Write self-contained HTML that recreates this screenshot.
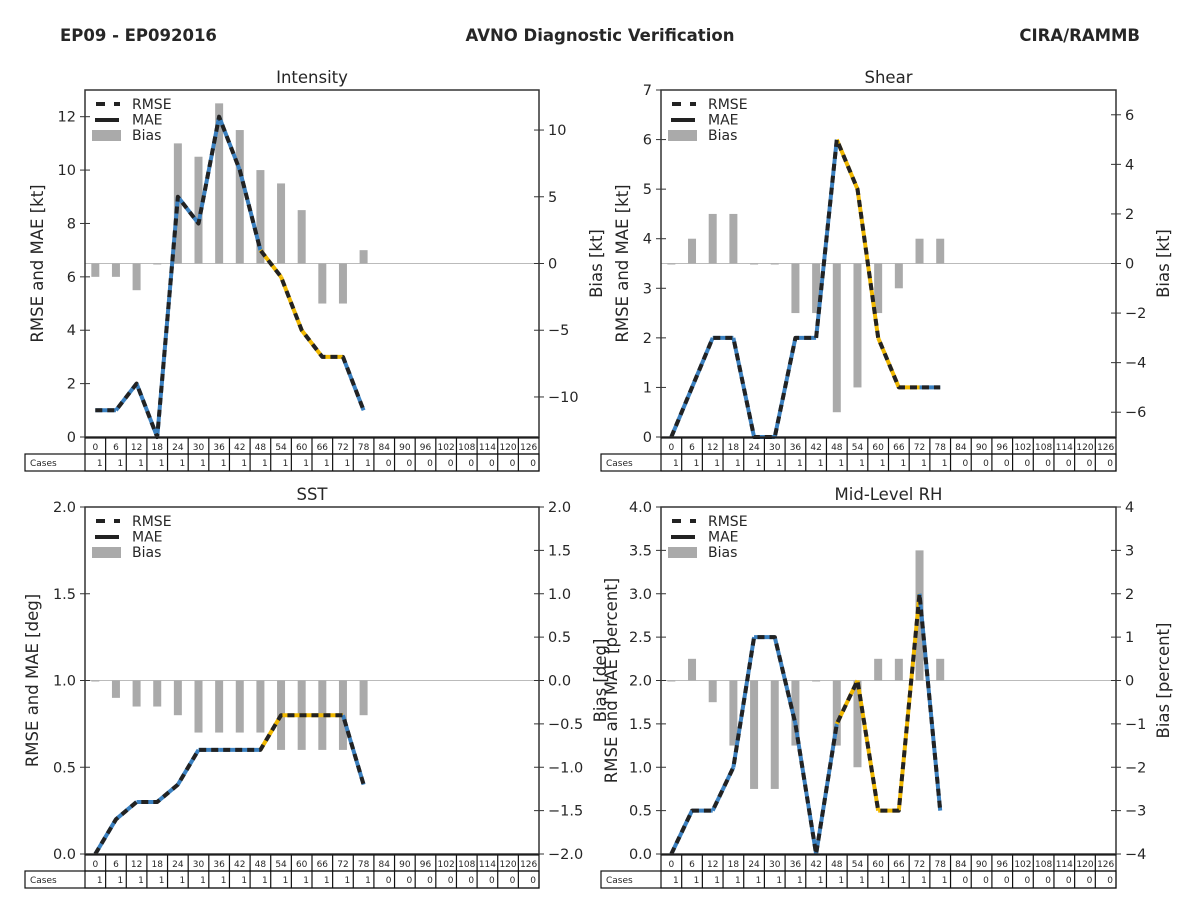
<!DOCTYPE html>
<html><head><meta charset="utf-8">
<style>
html,body{margin:0;padding:0;background:#fff;}
svg{display:block;font-family:"DejaVu Sans","Liberation Sans",sans-serif;}
</style></head>
<body>
<svg id="fig" width="1200" height="900" viewBox="0 0 1200 900" xmlns="http://www.w3.org/2000/svg">
<text x="60" y="41" font-size="16.5" font-weight="bold" fill="#262626">EP09 - EP092016</text>
<text x="600" y="41" font-size="16.5" font-weight="bold" fill="#262626" text-anchor="middle">AVNO Diagnostic Verification</text>
<text x="1140" y="41" font-size="16.5" font-weight="bold" fill="#262626" text-anchor="end">CIRA/RAMMB</text>
</svg>
<script>
const leadTimes = [0,6,12,18,24,30,36,42,48,54,60,66,72,78,84,90,96,102,108,114,120,126];
const cases = [1,1,1,1,1,1,1,1,1,1,1,1,1,1,0,0,0,0,0,0,0,0];

const intensityRmse = [1,1,2,0,9,8,12,10,7,6,4,3,3,1];
const intensityMae = [1,1,2,0,9,8,12,10,7,6,4,3,3,1];
const intensityBias = [-1,-1,-2,0,9,8,12,10,7,6,4,-3,-3,1];
const shearRmse = [0,1,2,2,0,0,2,2,6,5,2,1,1,1];
const shearMae = [0,1,2,2,0,0,2,2,6,5,2,1,1,1];
const shearBias = [0,1,2,2,0,0,-2,-2,-6,-5,-2,-1,1,1];
const sstRmse = [0,0.2,0.3,0.3,0.4,0.6,0.6,0.6,0.6,0.8,0.8,0.8,0.8,0.4];
const sstMae = [0,0.2,0.3,0.3,0.4,0.6,0.6,0.6,0.6,0.8,0.8,0.8,0.8,0.4];
const sstBias = [0,-0.2,-0.3,-0.3,-0.4,-0.6,-0.6,-0.6,-0.6,-0.8,-0.8,-0.8,-0.8,-0.4];
const rhRmse = [0,0.5,0.5,1,2.5,2.5,1.5,0,1.5,2,0.5,0.5,3,0.5];
const rhMae = [0,0.5,0.5,1,2.5,2.5,1.5,0,1.5,2,0.5,0.5,3,0.5];
const rhBias = [0,0.5,-0.5,-1.5,-2.5,-2.5,-1.5,0,-1.5,-2,0.5,0.5,3,0.5];

const intensityLeftTicks = ['0','2','4','6','8','10','12'];
const intensityRightTicks = ['\u221210','\u22125','0','5','10'];
const shearLeftTicks = ['0','1','2','3','4','5','6','7'];
const shearRightTicks = ['\u22126','\u22124','\u22122','0','2','4','6'];
const sstLeftTicks = ['0.0','0.5','1.0','1.5','2.0'];
const sstRightTicks = ['\u22122.0','\u22121.5','\u22121.0','\u22120.5','0.0','0.5','1.0','1.5','2.0'];
const rhLeftTicks = ['0.0','0.5','1.0','1.5','2.0','2.5','3.0','3.5','4.0'];
const rhRightTicks = ['\u22124','\u22123','\u22122','\u22121','0','1','2','3','4'];

const svg = document.getElementById('fig');
const NS = 'http://www.w3.org/2000/svg';
function mk(tag, attrs, parent){const e=document.createElementNS(NS,tag);for(const k in attrs)e.setAttribute(k,attrs[k]);(parent||svg).appendChild(e);return e;}
function num(s){return parseFloat(String(s).replace('\u2212','-'));}

const panels = [
 {key:'intensity',title:'Intensity',x0:85,x1:539,y0:90,y1:437,lmax:13,rmax:13,lt:intensityLeftTicks,rt:intensityRightTicks,rmse:intensityRmse,mae:intensityMae,bias:intensityBias,ll:'RMSE and MAE [kt]',rl:'Bias [kt]',llx:43,rlx:602},
 {key:'shear',title:'Shear',x0:661,x1:1116,y0:90,y1:437,lmax:7,rmax:7,lt:shearLeftTicks,rt:shearRightTicks,rmse:shearRmse,mae:shearMae,bias:shearBias,ll:'RMSE and MAE [kt]',rl:'Bias [kt]',llx:628,rlx:1169},
 {key:'sst',title:'SST',x0:85,x1:539,y0:507,y1:854,lmax:2,rmax:2,lt:sstLeftTicks,rt:sstRightTicks,rmse:sstRmse,mae:sstMae,bias:sstBias,ll:'RMSE and MAE [deg]',rl:'Bias [deg]',llx:38,rlx:606},
 {key:'rh',title:'Mid-Level RH',x0:661,x1:1116,y0:507,y1:854,lmax:4,rmax:4,lt:rhLeftTicks,rt:rhRightTicks,rmse:rhRmse,mae:rhMae,bias:rhBias,ll:'RMSE and MAE [percent]',rl:'Bias [percent]',llx:617,rlx:1169}
];

panels.forEach(p=>{
  const g = mk('g',{});
  
  
  const w = (p.x1-p.x0)/leadTimes.length;
  const xs = i => p.x0 + (i+0.5)*w;
  const yl = v => p.y1 - v/p.lmax*(p.y1-p.y0);
  const yr = v => (p.y0+p.y1)/2 - v/p.rmax*(p.y1-p.y0)/2;
  const t = mk('text',{x:(p.x0+p.x1)/2,y:p.y0-7,'font-size':16.5,'text-anchor':'middle',fill:'#262626'},g);
  t.textContent = p.title;
  
  
  const z = mk('line',{x1:p.x0,x2:p.x1,y1:yr(0),y2:yr(0),stroke:'#bbb','stroke-width':1},g);
  
  
  p.bias.forEach((b,i)=>{
    const y = Math.min(yr(0),yr(b)), h = Math.max(Math.abs(yr(b)-yr(0)),1);
    const r = mk('rect',{x:xs(i)-4,y:y,width:8,height:h,fill:'#aaaaaa'},g);
    
    
  });
  for(let i=0;i<p.mae.length-1;i++){
    const s = mk('line',{x1:xs(i),y1:yl(p.mae[i]),x2:xs(i+1),y2:yl(p.mae[i+1]),stroke:(i>=8&&i<12)?'#f0b800':'#3a80c0','stroke-width':4,'stroke-linecap':'butt'},g);
    
    
  }
  const pts = p.rmse.map((v,i)=>xs(i).toFixed(1)+','+yl(v).toFixed(1)).join(' ');
  const rl = mk('polyline',{points:pts,fill:'none',stroke:'#222','stroke-width':4,'stroke-dasharray':'7,5','stroke-linejoin':'round'},g);
  
  
  const f = mk('rect',{x:p.x0,y:p.y0,width:p.x1-p.x0,height:p.y1-p.y0,fill:'none',stroke:'#333','stroke-width':1.5},g);
  
  
  p.lt.forEach(s=>{
    const y = yl(num(s));
    mk('line',{x1:p.x0-5,x2:p.x0+5,y1:y,y2:y,stroke:'#333','stroke-width':1},g);
    const tx = mk('text',{x:p.x0-9,y:y+5,'font-size':14.5,'text-anchor':'end',fill:'#262626'},g);
    tx.textContent = s;
    
    
  });
  p.rt.forEach(s=>{
    const y = yr(num(s));
    mk('line',{x1:p.x1-5,x2:p.x1+5,y1:y,y2:y,stroke:'#333','stroke-width':1},g);
    const tx = mk('text',{x:p.x1+9,y:y+5,'font-size':14.5,'text-anchor':'start',fill:'#262626'},g);
    tx.textContent = s;
    
    
  });
  const cy = (p.y0+p.y1)/2;
  const la = mk('text',{x:p.llx,y:cy,'font-size':16.5,'text-anchor':'middle',fill:'#262626',transform:'rotate(-90 '+p.llx+' '+cy+')'},g);
  la.textContent = p.ll;
  
  
  const ra = mk('text',{x:p.rlx,y:cy,'font-size':16.5,'text-anchor':'middle',fill:'#262626',transform:'rotate(-90 '+p.rlx+' '+cy+')'},g);
  ra.textContent = p.rl;
  
  
  const lg = mk('g',{},g);
  
  
  const lx = p.x0+8, ly = p.y0+14;
  mk('line',{x1:lx+3,x2:lx+27,y1:ly,y2:ly,stroke:'#222','stroke-width':4,'stroke-dasharray':'9,9'},lg);
  mk('line',{x1:lx+2,x2:lx+26,y1:ly+16,y2:ly+16,stroke:'#222','stroke-width':4},lg);
  mk('rect',{x:lx-1,y:ly+26,width:29,height:11,fill:'#aaaaaa'},lg);
  ['RMSE','MAE','Bias'].forEach((s,k)=>{
    const tx = mk('text',{x:lx+39,y:ly+5+k*15.5,'font-size':14,fill:'#262626'},lg);
    tx.textContent = s;
    
    
  });
  const tb = mk('g',{},g);
  
  
  const r0 = p.y1+1, r1 = r0+16, r2 = r1+17, cx0 = p.x0-60;
  mk('rect',{x:p.x0,y:r0,width:p.x1-p.x0,height:r2-r0,fill:'none',stroke:'#111','stroke-width':1.2},tb);
  mk('rect',{x:cx0,y:r1,width:p.x1-cx0,height:r2-r1,fill:'none',stroke:'#111','stroke-width':1.2},tb);
  mk('line',{x1:p.x0,x2:p.x1,y1:r1,y2:r1,stroke:'#111','stroke-width':1.2},tb);
  const ct = mk('text',{x:cx0+5,y:r1+12,'font-size':9,fill:'#262626'},tb);
  ct.textContent = 'Cases';
  leadTimes.forEach((lt,i)=>{
    if(i>0) mk('line',{x1:p.x0+i*w,x2:p.x0+i*w,y1:r0,y2:r2,stroke:'#111','stroke-width':1.2},tb);
    const a = mk('text',{x:xs(i),y:r0+12,'font-size':9,'text-anchor':'middle',fill:'#262626'},tb);
    a.textContent = lt;
    const b = mk('text',{x:p.x0+(i+1)*w-3,y:r1+12,'font-size':9,'text-anchor':'end',fill:'#262626'},tb);
    b.textContent = cases[i];
  });
});
</script>
</body></html>
